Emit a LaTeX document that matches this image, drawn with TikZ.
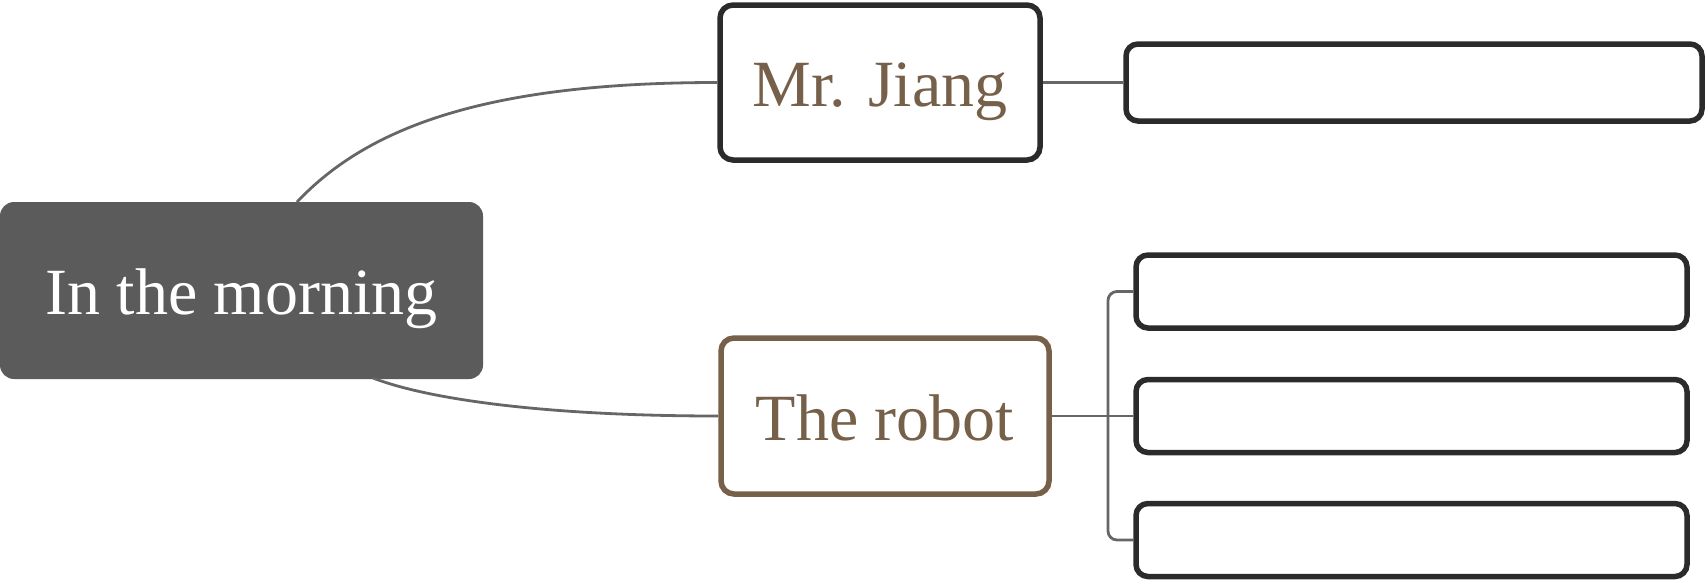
\documentclass[tikz,border=0pt]{standalone}
\usepackage{fontspec}
\setmainfont{Liberation Serif}
\definecolor{rootfill}{HTML}{5B5B5B}
\definecolor{boxline}{HTML}{2B2B2B}
\definecolor{brownc}{HTML}{76604A}
\definecolor{linkc}{HTML}{666666}
\begin{document}
\begin{tikzpicture}[x=1pt,y=-1pt,
  bigtext/.style={font=\fontsize{66}{70}\selectfont, text height=48pt, text depth=0pt, inner sep=0pt},
  rootbox/.style={bigtext, fill=rootfill, text=white, rounded corners=14pt, minimum width=483pt, minimum height=177pt},
  topicbox/.style={bigtext, draw=boxline, line width=5.5pt, fill=white, text=brownc, rounded corners=13pt},
  robotbox/.style={topicbox, draw=brownc},
  leafbox/.style={draw=boxline, line width=5.5pt, fill=white, rounded corners=12pt, inner sep=0pt},
  link/.style={draw=linkc, line width=2.8pt}
]
\useasboundingbox (0,0) rectangle (1708,582);
\node[rootbox] (root) at (241.5,290.5) {In the morning};
\node[topicbox, minimum width=320pt, minimum height=155pt] (mj) at (880,82.5) {Mr. Jiang};
\node[robotbox, minimum width=328pt, minimum height=156pt] (rb) at (885,416) {The robot};
\node[leafbox, minimum width=576pt, minimum height=77pt] (b1) at (1414,82.5) {};
\node[leafbox, minimum width=551pt, minimum height=73pt] (b2) at (1411.5,291.5) {};
\node[leafbox, minimum width=551pt, minimum height=73pt] (b3) at (1411.5,416) {};
\node[leafbox, minimum width=551pt, minimum height=73pt] (b4) at (1411.5,540) {};
\coordinate (rt) at (297,202);
\coordinate (rbt) at (373,378);
\coordinate (jn) at (1108,416);
\path[link] (rt) .. controls (365,130) and (480,82.5) .. (mj.west);
\path[link] (rbt) .. controls (430,400) and (550,416) .. (rb.west);
\path[link] (mj.east) -- (b1.west);
\path[link] (rb.east) -- (b3.west);
\path[link, rounded corners=9pt] (b2.west) -| (jn) |- (b4.west);
\end{tikzpicture}
\end{document}
